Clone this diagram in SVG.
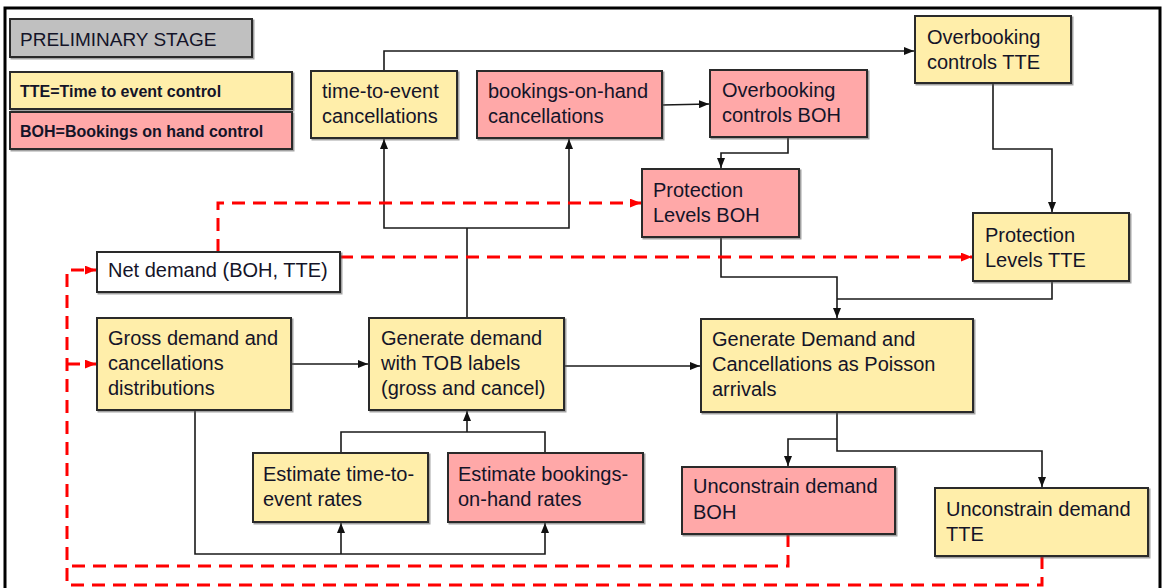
<svg xmlns="http://www.w3.org/2000/svg" width="1163" height="588" viewBox="0 0 1163 588">
  <defs>
    <filter id="shadow" x="-5%" y="-5%" width="115%" height="120%">
      <feDropShadow dx="1.5" dy="1.5" stdDeviation="0.7" flood-color="#555" flood-opacity="0.55"/>
    </filter>
    <marker id="arrowBlack" viewBox="0 0 10 8" refX="10" refY="4" markerWidth="10" markerHeight="8" markerUnits="userSpaceOnUse" orient="auto">
      <path d="M0,0 L10,4 L0,8 Z" fill="#111"/>
    </marker>
    <marker id="arrowRed" viewBox="0 0 10 8" refX="10" refY="4" markerWidth="11" markerHeight="9" markerUnits="userSpaceOnUse" orient="auto">
      <path d="M0,0 L10,4 L0,8 Z" fill="#ff0000"/>
    </marker>
  </defs>
  <style>
    .box { stroke: #2a2a2a; stroke-width: 2; filter: url(#shadow); }
    .tte { fill: #ffeeaa; }
    .boh { fill: #ffa8a8; }
    .plain { fill: #ffffff; }
    .stage { fill: #c0c0c0; }
    .label { font-family: "Liberation Sans", Arial, sans-serif; font-size: 20px; fill: #141428; }
    .legend { font-family: "Liberation Sans", Arial, sans-serif; font-size: 16px; font-weight: bold; fill: #141428; }
    .link { fill: none; stroke: #1a1a1a; stroke-width: 1.6; }
    .dash { fill: none; stroke: #ff0000; stroke-width: 3; stroke-dasharray: 13 8; }
  </style>

  <rect width="1163" height="588" fill="#ffffff"/>
  <!-- outer frame -->
  <path d="M5,600 L5,8 L1160,8 L1160,600" fill="none" stroke="#000" stroke-width="3"/>

  <!-- legend -->
  <g id="stage">
    <rect class="box stage" x="10" y="19" width="242" height="38"/>
    <text class="label" x="20" y="46" style="font-size:19px">PRELIMINARY STAGE</text>
  </g>
  <g id="legend-tte">
    <rect class="box tte" x="10" y="72" width="282" height="37"/>
    <text class="legend" x="20" y="97">TTE=Time to event control</text>
  </g>
  <g id="legend-boh">
    <rect class="box boh" x="10" y="112" width="282" height="37"/>
    <text class="legend" x="20" y="137">BOH=Bookings on hand control</text>
  </g>

  <!-- connectors -->
  <g id="connectors">
    <path class="link" d="M384,71 L384,51 L914,51" marker-end="url(#arrowBlack)"/>
    <path class="link" d="M662,105 L709,104" marker-end="url(#arrowBlack)"/>
    <path class="link" d="M788,137 L788,153 L721,153 L721,168" marker-end="url(#arrowBlack)"/>
    <path class="link" d="M993,83 L993,149 L1052,149 L1052,212" marker-end="url(#arrowBlack)"/>
    <path class="link" d="M721,237 L721,277 L837,277 L837,318" marker-end="url(#arrowBlack)"/>
    <path class="link" d="M1052,281 L1052,299 L837,299"/>
    <path class="link" d="M467,318 L467,228"/>
    <path class="link" d="M467,228 L384,228 L384,139" marker-end="url(#arrowBlack)"/>
    <path class="link" d="M467,228 L569,228 L569,139" marker-end="url(#arrowBlack)"/>
    <path class="link" d="M291,364 L368,364" marker-end="url(#arrowBlack)"/>
    <path class="link" d="M564,366 L700,366" marker-end="url(#arrowBlack)"/>
    <path class="link" d="M837,412 L837,451 L1042,451 L1042,487" marker-end="url(#arrowBlack)"/>
    <path class="link" d="M837,439 L788,439 L788,466" marker-end="url(#arrowBlack)"/>
    <path class="link" d="M341,453 L341,432 L545,432 L545,453"/>
    <path class="link" d="M467,432 L467,411" marker-end="url(#arrowBlack)"/>
    <path class="link" d="M195,410 L195,554 L545,554 L545,523" marker-end="url(#arrowBlack)"/>
    <path class="link" d="M341,554 L341,523" marker-end="url(#arrowBlack)"/>

    <!-- feedback loops -->
    <path class="dash" d="M218,252 L218,203 L641,203" marker-end="url(#arrowRed)"/>
    <path class="dash" d="M340,257 L972,257" marker-end="url(#arrowRed)"/>
    <path class="dash" d="M1042,556 L1042,585 L67,585 L67,270 L96,270" marker-end="url(#arrowRed)"/>
    <path class="dash" d="M67,364 L96,364" stroke-dasharray="none" marker-end="url(#arrowRed)"/>
    <path class="dash" d="M788,534 L788,566 L67,566"/>
  </g>

  <!-- nodes -->
  <g id="tte-cancellations">
    <rect class="box tte" x="311" y="71" width="146" height="67"/>
    <text class="label" x="322" y="98">time-to-event</text>
    <text class="label" x="322" y="123">cancellations</text>
  </g>
  <g id="boh-cancellations">
    <rect class="box boh" x="477" y="71" width="185" height="67"/>
    <text class="label" x="488" y="98">bookings-on-hand</text>
    <text class="label" x="488" y="123">cancellations</text>
  </g>
  <g id="overbooking-boh">
    <rect class="box boh" x="710" y="70" width="157" height="67"/>
    <text class="label" x="722" y="97">Overbooking</text>
    <text class="label" x="722" y="122">controls BOH</text>
  </g>
  <g id="overbooking-tte">
    <rect class="box tte" x="915" y="16" width="156" height="67"/>
    <text class="label" x="927" y="44">Overbooking</text>
    <text class="label" x="927" y="69">controls TTE</text>
  </g>
  <g id="protection-boh">
    <rect class="box boh" x="642" y="169" width="157" height="68"/>
    <text class="label" x="653" y="197">Protection</text>
    <text class="label" x="653" y="222">Levels BOH</text>
  </g>
  <g id="protection-tte">
    <rect class="box tte" x="973" y="213" width="156" height="68"/>
    <text class="label" x="985" y="242">Protection</text>
    <text class="label" x="985" y="267">Levels TTE</text>
  </g>
  <g id="net-demand">
    <rect class="box plain" x="97" y="252" width="243" height="40"/>
    <text class="label" x="108" y="277">Net demand (BOH, TTE)</text>
  </g>
  <g id="gross-demand">
    <rect class="box tte" x="97" y="318" width="194" height="92"/>
    <text class="label" x="108" y="345">Gross demand and</text>
    <text class="label" x="108" y="370">cancellations</text>
    <text class="label" x="108" y="395">distributions</text>
  </g>
  <g id="generate-tob">
    <rect class="box tte" x="369" y="318" width="195" height="92"/>
    <text class="label" x="381" y="345">Generate demand</text>
    <text class="label" x="381" y="370">with TOB labels</text>
    <text class="label" x="381" y="395">(gross and cancel)</text>
  </g>
  <g id="generate-poisson">
    <rect class="box tte" x="701" y="319" width="272" height="93"/>
    <text class="label" x="712" y="346">Generate Demand and</text>
    <text class="label" x="712" y="371">Cancellations as Poisson</text>
    <text class="label" x="712" y="396">arrivals</text>
  </g>
  <g id="estimate-tte">
    <rect class="box tte" x="253" y="453" width="175" height="69"/>
    <text class="label" x="263" y="481">Estimate time-to-</text>
    <text class="label" x="263" y="506">event rates</text>
  </g>
  <g id="estimate-boh">
    <rect class="box boh" x="448" y="453" width="195" height="69"/>
    <text class="label" x="458" y="481">Estimate bookings-</text>
    <text class="label" x="458" y="506">on-hand rates</text>
  </g>
  <g id="unconstrain-boh">
    <rect class="box boh" x="682" y="467" width="213" height="67"/>
    <text class="label" x="693" y="493">Unconstrain demand</text>
    <text class="label" x="693" y="519">BOH</text>
  </g>
  <g id="unconstrain-tte">
    <rect class="box tte" x="935" y="488" width="213" height="68"/>
    <text class="label" x="946" y="516">Unconstrain demand</text>
    <text class="label" x="946" y="541">TTE</text>
  </g>
</svg>
